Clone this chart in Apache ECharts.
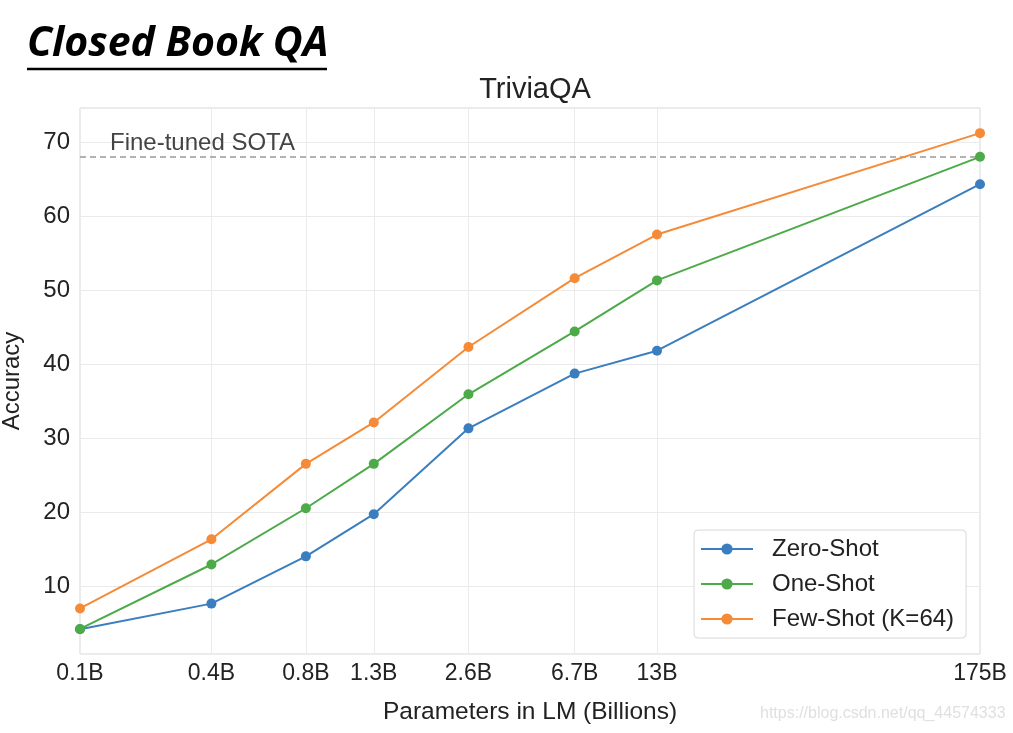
<!DOCTYPE html>
<html><head><meta charset="utf-8">
<script src="https://cdn.jsdelivr.net/npm/echarts@6/dist/echarts.min.js"></script>
<style>html,body{margin:0;padding:0;background:#fff}#c{width:1013px;height:733px}</style>
</head><body><div id="c"></div>
<script>
const params = [0.125, 0.36, 0.77, 1.33, 2.85, 6.7, 13, 175];
const tickLabels = ['0.1B','0.4B','0.8B','1.3B','2.6B','6.7B','13B','175B'];
const zeroShot = [4.15, 7.61, 14.0, 19.7, 31.3, 38.7, 41.8, 64.3];
const oneShot = [4.19, 12.9, 20.5, 26.5, 35.9, 44.4, 51.3, 68.0];
const fewShot = [6.96, 16.3, 26.5, 32.1, 42.3, 51.6, 57.5, 71.2];
const sota = 68.0;

const lx = params.map(p => Math.log10(p));
const pairs = arr => arr.map((v, i) => [lx[i], v]);
const labelMap = {};
lx.forEach((v, i) => { labelMap[v.toFixed(6)] = tickLabels[i]; });

const font = 'Liberation Sans, Arial, sans-serif';
const chart = echarts.init(document.getElementById('c'));
const mk = (name, color, data) => ({
  name, type: 'line', data: pairs(data), symbol: 'circle', symbolSize: 10,
  lineStyle: { width: 2, color }, itemStyle: { color }, z: 5
});
chart.setOption({
  animation: false,
  title: { text: 'TriviaQA', left: 530, textAlign: 'center', top: 70,
    textStyle: { fontFamily: font, fontSize: 29, fontWeight: 'normal', color: '#222' } },
  graphic: [
    { type: 'text', left: 27, top: 24, style: { text: 'Closed Book QA', font: 'italic bold 41px "Open Sans", sans-serif', fill: '#000' } },
    { type: 'line', shape: { x1: 27, y1: 69, x2: 327, y2: 69 }, style: { stroke: '#000', lineWidth: 2.5 } },
    { type: 'text', left: 760, top: 706, style: { text: 'https://blog.csdn.net/qq_44574333', font: '16px "Liberation Sans", Arial', fill: '#e0e0e0' } }
  ],
  grid: { left: 80, right: 33, top: 108, bottom: 79, show: true, borderColor: '#d6d6d6', borderWidth: 1, outerBoundsMode: 'none', containLabel: false },
  legend: {
    data: ['Zero-Shot', 'One-Shot', 'Few-Shot (K=64)'], orient: 'vertical', left: 694, top: 530,
    itemWidth: 52, itemHeight: 14, itemGap: 11, padding: [7, 12, 7, 6],
    backgroundColor: '#fff', borderColor: '#d8d8d8', borderWidth: 1, borderRadius: 4,
    textStyle: { fontFamily: font, fontSize: 24, color: '#222', padding: [0, 0, 0, 14] }
  },
  xAxis: {
    type: 'value', min: lx[0], max: lx[lx.length - 1],
    name: 'Parameters in LM (Billions)', nameLocation: 'middle', nameGap: 46,
    nameTextStyle: { fontFamily: font, fontSize: 24.5, color: '#222' },
    axisLine: { show: false }, axisTick: { show: false, customValues: lx },
    splitLine: { show: true, lineStyle: { color: '#ebebeb', width: 1 } },
    axisLabel: { customValues: lx, margin: 8, fontFamily: font, fontSize: 23, color: '#222',
      formatter: v => labelMap[Number(v).toFixed(6)] || '' }
  },
  yAxis: {
    type: 'value', min: 0.8, max: 74.6, splitNumber: 7,
    name: 'Accuracy', nameLocation: 'middle', nameGap: 56,
    nameTextStyle: { fontFamily: font, fontSize: 24, color: '#222' },
    axisLine: { show: false }, axisTick: { show: false },
    splitLine: { lineStyle: { color: '#ebebeb', width: 1 } },
    axisLabel: { showMinLabel: false, showMaxLabel: false, margin: 10, fontFamily: font, fontSize: 24, color: '#222' }
  },
  series: [
    { name: 'sota', type: 'line', data: [], z: 2, silent: true,
      markLine: { silent: true, symbol: 'none',
        lineStyle: { color: '#999', width: 1.5, type: [6, 4] },
        label: { show: true, position: 'insideStartTop', formatter: 'Fine-tuned SOTA', distance: [30, 1],
          fontFamily: font, fontSize: 24, color: '#444' },
        data: [{ yAxis: sota }] } },
    mk('Zero-Shot', '#3a7ebf', zeroShot),
    mk('One-Shot', '#4caa48', oneShot),
    mk('Few-Shot (K=64)', '#f58b38', fewShot)
  ]
});
</script></body></html>
